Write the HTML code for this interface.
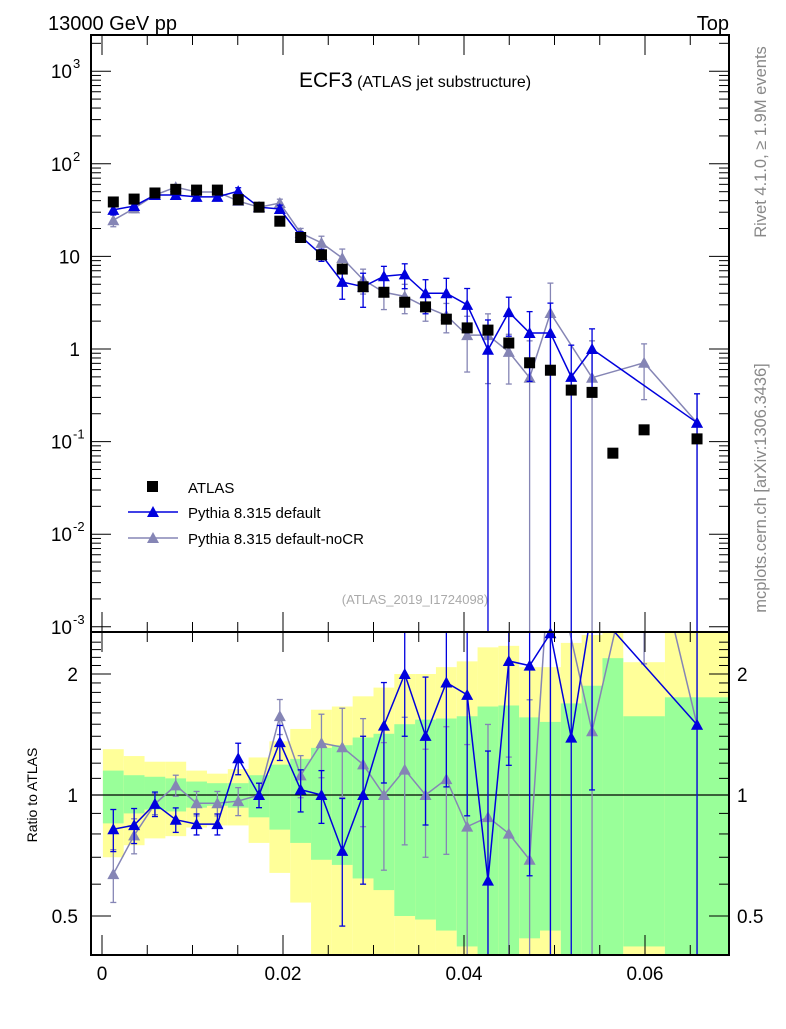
<!DOCTYPE html>
<html><head><meta charset="utf-8"><style>
body{margin:0;background:#fff;}
svg text{font-family:"Liberation Sans",sans-serif;}
</style></head><body>
<svg id="plot" width="786" height="1024" xmlns="http://www.w3.org/2000/svg">
<text x="48" y="30" font-size="20">13000 GeV pp</text>
<text x="729" y="30" font-size="20" text-anchor="end">Top</text>
<text x="415" y="87" text-anchor="middle"><tspan font-size="21">ECF3</tspan><tspan font-size="16"> (ATLAS jet substructure)</tspan></text>
<text transform="translate(766,142) rotate(-90)" font-size="16.5" fill="#888" text-anchor="middle">Rivet 4.1.0, ≥ 1.9M events</text>
<text transform="translate(766,488) rotate(-90)" font-size="16.5" fill="#888" text-anchor="middle">mcplots.cern.ch [arXiv:1306.3436]</text>
<text x="415" y="604" font-size="13" fill="#aaa" text-anchor="middle">(ATLAS_2019_I1724098)</text>
<text transform="translate(37,795) rotate(-90)" font-size="14" text-anchor="middle">Ratio to ATLAS</text>
<g id="bands"></g><g id="marks"></g><g id="axes"></g>
<g>
<rect x="147" y="481" width="11" height="11" fill="#000"/>
<text x="188" y="493" font-size="15">ATLAS</text>
<line x1="128" y1="512" x2="178" y2="512" stroke="#0000dd" stroke-width="1.5"/>
<polygon points="153,506 147,517 159,517" fill="#0000dd"/>
<text x="188" y="518" font-size="15">Pythia 8.315 default</text>
<line x1="128" y1="538" x2="178" y2="538" stroke="#8585b5" stroke-width="1.5"/>
<polygon points="153,532 147,543 159,543" fill="#8585b5"/>
<text x="188" y="544" font-size="15">Pythia 8.315 default-noCR</text>
</g>
</svg>
<script>
const binEdges=[0.0001,0.0024,0.0047,0.0070,0.0093,0.0116,0.0139,0.0162,0.0185,0.0208,0.0231,0.0254,0.0277,0.0300,0.0323,0.0346,0.0369,0.0392,0.0415,0.0438,0.0461,0.0484,0.0507,0.0530,0.0553,0.0576,0.0622,0.0693];
const atlasVals=[38.7,41.6,48.4,53,52,52,41,34,24,16,10.4,7.3,4.7,4.1,3.2,2.85,2.1,1.69,1.6,1.16,0.71,0.59,0.36,0.34,0.075,0.134,0.107];
const defVals=[31.8,35,46,46,44,44,50.6,34,32.5,16.5,10.4,5.3,4.7,6.1,6.4,4.0,4.0,3.0,0.98,2.5,1.49,1.49,0.5,1.0,null,null,0.16];
const defErr=[0.12,0.1,0.07,0.07,0.06,0.06,0.09,0.07,0.1,0.12,0.15,0.35,0.4,0.28,0.3,0.4,0.45,0.5,1.1,0.45,0.7,1.1,1.2,0.65,null,null,1.05];
const nocrVals=[24.6,33,46,56,49.6,49.6,39.6,34,37.7,17.9,14,9.6,5.6,4.1,3.7,2.85,2.3,1.41,1.41,0.93,0.49,2.45,null,0.49,null,0.71,0.16];
const nocrErr=[0.15,0.1,0.06,0.06,0.07,0.07,0.08,0.07,0.1,0.12,0.18,0.25,0.3,0.35,0.35,0.3,0.35,0.6,0.7,0.55,1.5,1.1,null,1.5,null,0.6,1.05];
const yelHi=[1.30,1.25,1.21,1.21,1.15,1.13,1.16,1.24,1.36,1.46,1.63,1.66,1.76,1.85,2.0,2.0,2.08,2.15,2.33,2.35,2.08,2.08,2.39,2.5,3,2.14,3];
const yelLo=[0.70,0.75,0.78,0.79,0.83,0.84,0.84,0.76,0.64,0.54,0.3,0.3,0.3,0.3,0.3,0.3,0.3,0.3,0.3,0.3,0.3,0.3,0.3,0.3,0.3,0.3,0.3];
const grnHi=[1.15,1.12,1.11,1.10,1.08,1.07,1.07,1.12,1.19,1.23,1.31,1.33,1.39,1.42,1.5,1.54,1.55,1.57,1.66,1.67,1.56,1.52,1.69,1.87,2.19,1.57,1.75];
const grnLo=[0.85,0.9,0.92,0.91,0.93,0.94,0.93,0.88,0.82,0.76,0.69,0.67,0.62,0.58,0.5,0.49,0.46,0.42,0.3,0.3,0.44,0.46,0.3,0.3,0.3,0.42,0.3];
const xTicks=[0,0.02,0.04,0.06];
const xTickLabels=["0","0.02","0.04","0.06"];

const NS="http://www.w3.org/2000/svg";
const L=91,R=729,T=35,MB=632,RB=955;
const X=v=>102+(v)*9050;
const Y=v=>349-92.6*Math.log10(v);
const RY=r=>795-121*Math.log2(r);
function mk(tag,attrs,parent){const e=document.createElementNS(NS,tag);for(const k in attrs)e.setAttribute(k,attrs[k]);document.getElementById(parent).appendChild(e);return e;}
const clampM=y=>Math.max(T,Math.min(MB,y));
const clampR=y=>Math.max(MB,Math.min(RB,y));
const centers=atlasVals.map((_,i)=>(binEdges[i]+binEdges[i+1])/2);

for(let i=0;i<atlasVals.length;i++){
  const x1=X(binEdges[i]),x2=X(binEdges[i+1]);
  let y1=clampR(RY(yelHi[i])),y2=clampR(RY(yelLo[i]));
  let e=mk('rect',{x:x1,y:y1,width:x2-x1,height:y2-y1,fill:'#ffff99'},'bands');
  
  
  y1=clampR(RY(grnHi[i]));y2=clampR(RY(grnLo[i]));
  e=mk('rect',{x:x1,y:y1,width:x2-x1,height:y2-y1,fill:'#99ff99'},'bands');
  
  
}
mk('line',{x1:L,y1:795,x2:R,y2:795,stroke:'#000','stroke-width':1.2},'bands');

function series(vals,errs,color,name){
  let pts=[],rpts=[];
  for(let i=0;i<vals.length;i++){
    const v=vals[i];if(v==null)continue;
    const x=X(centers[i]);
    const y=Y(v);pts.push([x,y]);
    const r=v/atlasVals[i];const ry=RY(r);rpts.push([x,ry]);
    const hi=v*(1+errs[i]),lo=v*(1-errs[i]);
    let e=mk('line',{x1:x,x2:x,y1:clampM(Y(hi)),y2:lo>0?clampM(Y(lo)):MB,stroke:color,'stroke-width':1.3},'marks');
    
    
    mk('line',{x1:x-3,x2:x+3,y1:clampM(Y(hi)),y2:clampM(Y(hi)),stroke:color,'stroke-width':1.3},'marks');
    if(lo>0)mk('line',{x1:x-3,x2:x+3,y1:clampM(Y(lo)),y2:clampM(Y(lo)),stroke:color,'stroke-width':1.3},'marks');
    const rhi=RY(r*(1+errs[i])),rlo=lo>0?RY(r*(1-errs[i])):RB;
    e=mk('line',{x1:x,x2:x,y1:clampR(rhi),y2:clampR(rlo),stroke:color,'stroke-width':1.3},'marks');
    
    
    if(rhi>MB)mk('line',{x1:x-3,x2:x+3,y1:rhi,y2:rhi,stroke:color,'stroke-width':1.3},'marks');
    if(lo>0&&rlo<RB)mk('line',{x1:x-3,x2:x+3,y1:rlo,y2:rlo,stroke:color,'stroke-width':1.3},'marks');
  }
  let e=mk('polyline',{points:pts.map(p=>p.join(',')).join(' '),fill:'none',stroke:color,'stroke-width':1.5},'marks');
  
  
  e=mk('polyline',{points:rpts.map(p=>p.join(',')).join(' '),fill:'none',stroke:color,'stroke-width':1.5,'clip-path':'url(#rclip)'},'marks');
  
  
  for(const [x,y] of pts){e=mk('polygon',{points:`${x},${y-6} ${x-6},${y+5} ${x+6},${y+5}`,fill:color},'marks');
    
    }
  for(const [x,y] of rpts){if(y<MB||y>RB)continue;e=mk('polygon',{points:`${x},${y-6} ${x-6},${y+5} ${x+6},${y+5}`,fill:color},'marks');
    
    }
}
const defs=mk('defs',{},'marks');
const cp=document.createElementNS(NS,'clipPath');cp.setAttribute('id','rclip');
const cr=document.createElementNS(NS,'rect');cr.setAttribute('x',L);cr.setAttribute('y',MB);cr.setAttribute('width',R-L);cr.setAttribute('height',RB-MB);
cp.appendChild(cr);defs.appendChild(cp);
series(nocrVals,nocrErr,'#8585b5','pythia-nocr');
series(defVals,defErr,'#0000dd','pythia-default');
for(let i=0;i<atlasVals.length;i++){
  const x=X(centers[i]),y=Y(atlasVals[i]);
  const e=mk('rect',{x:x-5.5,y:y-5.5,width:11,height:11,fill:'#000'},'marks');
  
  
}
mk('rect',{x:L,y:T,width:R-L,height:MB-T,fill:'none',stroke:'#000','stroke-width':2},'axes');
mk('rect',{x:L,y:MB,width:R-L,height:RB-MB,fill:'none',stroke:'#000','stroke-width':2},'axes');
for(let d=-3;d<=3;d++){
  for(let m=1;m<10;m++){
    const y=Y(Math.pow(10,d)*m);if(y<T||y>MB)continue;
    const len=m==1?20:10;
    mk('line',{x1:L,x2:L+len,y1:y,y2:y,stroke:'#000','stroke-width':1},'axes');
    mk('line',{x1:R,x2:R-len,y1:y,y2:y,stroke:'#000','stroke-width':1},'axes');
  }
  const y=Y(Math.pow(10,d));
  let t;
  if(d==0)t=mk('text',{x:80,y:y+7,'font-size':19,'text-anchor':'end'},'axes'),t.textContent='1';
  else if(d==1)t=mk('text',{x:80,y:y+7,'font-size':19,'text-anchor':'end'},'axes'),t.textContent='10';
  else{t=mk('text',{x:72,y:y+7,'font-size':19,'text-anchor':'end'},'axes');t.innerHTML='10';
    const s=mk('text',{x:73,y:y-3,'font-size':13},'axes');s.textContent=String(d);
    
    }
  
  
}
for(let r=0.4;r<=2.5;r+=0.1){
  const y=RY(r);if(y<MB||y>RB)continue;
  const big=Math.abs(r-1)<0.01||Math.abs(r-2)<0.01||Math.abs(r-0.5)<0.01;
  const len=big?20:10;
  mk('line',{x1:L,x2:L+len,y1:y,y2:y,stroke:'#000','stroke-width':1},'axes');
  mk('line',{x1:R,x2:R-len,y1:y,y2:y,stroke:'#000','stroke-width':1},'axes');
}
[[2,'2'],[1,'1'],[0.5,'0.5']].forEach(([r,s])=>{
  let t=mk('text',{x:78,y:RY(r)+7,'font-size':19,'text-anchor':'end'},'axes');t.textContent=s;
  
  
  t=mk('text',{x:737,y:RY(r)+7,'font-size':19},'axes');t.textContent=s;
  
  
});
for(let v=0;v<=0.069;v+=0.005){
  const x=X(v);const big=Math.abs(v/0.02-Math.round(v/0.02))<0.01;const len=big?20:10;
  [[T,1],[MB,1],[MB,-1],[RB,-1]].forEach(([y0,s])=>mk('line',{x1:x,x2:x,y1:y0,y2:y0+s*len,stroke:'#000','stroke-width':1},'axes'));
}
xTicks.forEach((v,i)=>{const t=mk('text',{x:X(v),y:980,'font-size':19,'text-anchor':'middle'},'axes');t.textContent=xTickLabels[i];
  
  });
</script>
</body></html>
